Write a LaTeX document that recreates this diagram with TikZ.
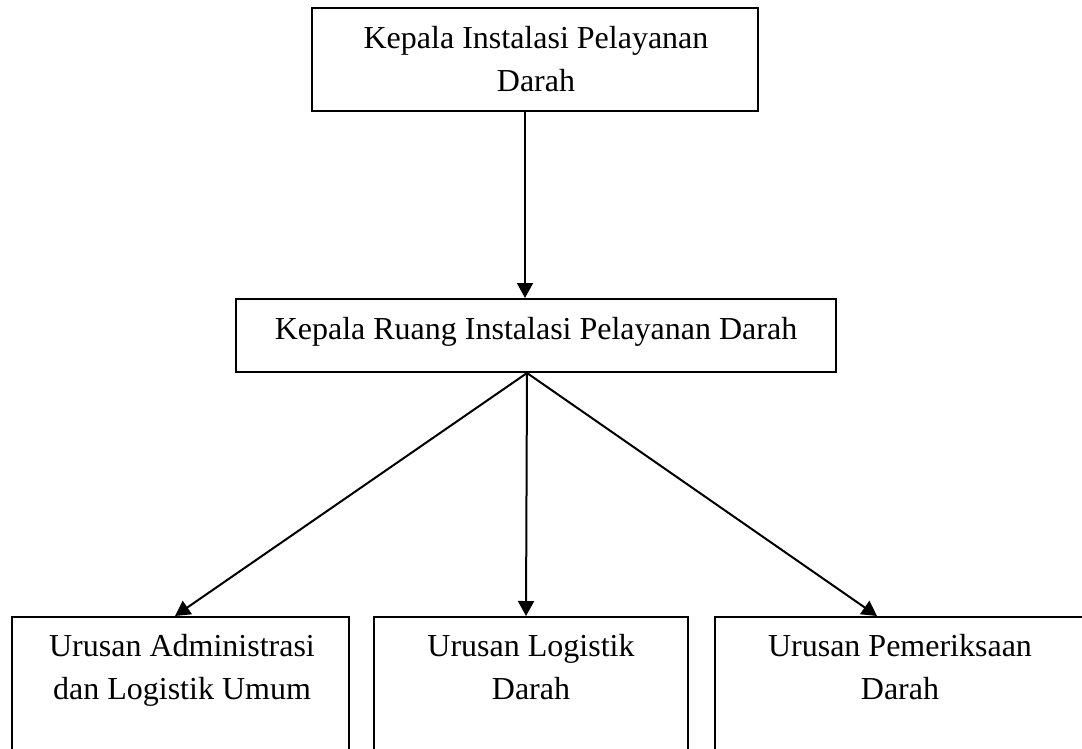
\documentclass[tikz,border=0pt]{standalone}
\usepackage{fontspec}
\setmainfont{Liberation Serif}
\usetikzlibrary{arrows.meta}
\begin{document}
\begin{tikzpicture}[x=1pt,y=-1pt,
  boxshape/.style={draw=black,line width=2pt,rectangle,inner sep=0pt},
  lbl/.style={align=center,inner sep=0pt,anchor=base,font=\fontsize{32}{42.5}\selectfont},
  arr/.style={line width=2pt,-{Triangle[length=15pt,width=16pt]}}]
\useasboundingbox (0,0) rectangle (1082,748);
\clip (0,0) rectangle (1082,748);
\fill[white] (0,0) rectangle (1082,748);
% boxes
\node[boxshape,minimum width=446pt,minimum height=103pt] (top) at (535,59.5) {};
\node[boxshape,minimum width=600pt,minimum height=73pt] (mid) at (536,335.5) {};
\node[boxshape,minimum width=337pt,minimum height=183pt] (bl) at (180.5,708.5) {};
\node[boxshape,minimum width=314pt,minimum height=183pt] (bm) at (531,708.5) {};
\node[boxshape,minimum width=370pt,minimum height=183pt] (br) at (900,708.5) {};
% texts (base anchor = baseline of last line)
\node[lbl] (ttop) at (536,91) {Kepala Instalasi Pelayanan\\Darah};
\node[lbl] (tmid) at (536,339) {Kepala Ruang Instalasi Pelayanan Darah};
\node[lbl] (tbl) at (182,699) {Urusan Administrasi\\dan Logistik Umum};
\node[lbl] (tbm) at (531,699) {Urusan Logistik\\Darah};
\node[lbl] (tbr) at (900,699) {Urusan Pemeriksaan\\Darah};
% connectors
\draw[arr] ([xshift=-10pt]top.south) -- ([xshift=-11pt]mid.north);
\draw[arr] ([xshift=-9pt]mid.south) -- ([xshift=-5.5pt]bl.north);
\draw[arr] ([xshift=-9pt]mid.south) -- ([xshift=-5pt]bm.north);
\draw[arr] ([xshift=-9pt]mid.south) -- ([xshift=-23pt]br.north);
\end{tikzpicture}
\end{document}
